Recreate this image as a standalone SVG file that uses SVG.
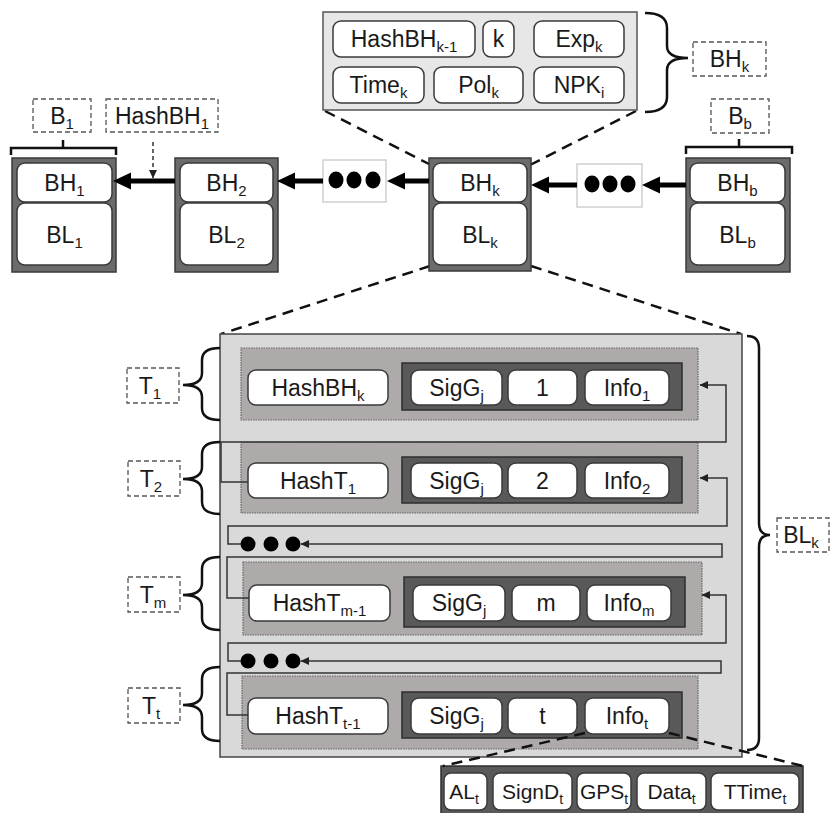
<svg xmlns="http://www.w3.org/2000/svg" width="831" height="813" viewBox="0 0 831 813">
<style>
text{font-family:"Liberation Sans",Arial,sans-serif;font-size:23px;fill:#1a1a1a;text-anchor:middle}
tspan.s{font-size:15px}
text.d{font-size:21px}
text.d tspan.s{font-size:14px}
.blk{fill:#6b6b6b;stroke:#3a3a3a;stroke-width:1.5}
.wb{fill:#fff;stroke:#3a3a3a;stroke-width:1.5}
.lbl{fill:#fff;stroke:#555;stroke-width:1.3;stroke-dasharray:5,3}
.dotbox{fill:#fff;stroke:#d0d0d0;stroke-width:1.5}
.hdr{fill:#e7e7e7;stroke:#555;stroke-width:1.5}
.bl{fill:#d9d9d9;stroke:#444;stroke-width:1.5}
.tr{fill:#aeaaaa;stroke:#666;stroke-width:1.2;stroke-dasharray:1.5,1}
.dk{fill:#595959;stroke:#2e2e2e;stroke-width:1.5}
.thick{stroke:#000;stroke-width:5;fill:none}
.thin{stroke:#333;stroke-width:1.5;fill:none}
.dash{stroke:#111;stroke-width:2.5;fill:none;stroke-dasharray:11,7}
.brace{stroke:#111;stroke-width:2.5;fill:none}
.dot{fill:#000}
</style>
<defs>
<marker id="big" markerUnits="userSpaceOnUse" markerWidth="19" markerHeight="19" viewBox="0 0 19 19" refX="7" refY="9.5" orient="auto">
<path d="M0,1 L18,9.5 L0,18 z" fill="#000"/>
</marker>
<marker id="sm" markerUnits="userSpaceOnUse" markerWidth="9" markerHeight="9" viewBox="0 0 9 9" refX="8" refY="4.5" orient="auto">
<path d="M0,0.5 L8.5,4.5 L0,8.5 z" fill="#222"/>
</marker>
</defs>

<!-- Zoom dashed lines (behind) -->
<g id="zoom-lines">
<path class="dash" d="M325,111 L431,165"/>
<path class="dash" d="M636,111 L530,165"/>
<path class="dash" d="M430,266 L221,334"/>
<path class="dash" d="M531,266 L741,334"/>
</g>

<!-- Block header detail -->
<g id="header">
<rect class="hdr" x="323" y="12" width="314" height="98"/>
<rect class="wb" x="333" y="21" width="142" height="36" rx="8"/>
<text x="404" y="47">HashBH<tspan class="s" dy="5">k-1</tspan></text>
<rect class="wb" x="483" y="21" width="31" height="36" rx="8"/>
<text x="498.5" y="47">k</text>
<rect class="wb" x="534" y="21" width="90" height="36" rx="8"/>
<text x="579" y="47">Exp<tspan class="s" dy="5">k</tspan></text>
<rect class="wb" x="333" y="67" width="91" height="36" rx="8"/>
<text x="378.5" y="93">Time<tspan class="s" dy="5">k</tspan></text>
<rect class="wb" x="434" y="67" width="89" height="36" rx="8"/>
<text x="478.5" y="93">Pol<tspan class="s" dy="5">k</tspan></text>
<rect class="wb" x="534" y="67" width="90" height="36" rx="8"/>
<text x="579" y="93">NPK<tspan class="s" dy="5">i</tspan></text>
</g>
<g id="header-brace">
<path class="brace" d="M645,13 Q667,13 667,28 V46 Q667,58 688,58 Q667,58 667,70 V97 Q667,112 645,112"/>
<rect class="lbl" x="693" y="42" width="73" height="34"/>
<text x="729.5" y="67">BH<tspan class="s" dy="5">k</tspan></text>
</g>

<!-- Chain blocks -->
<g id="block-1">
<path class="brace" d="M11,155 V148 H116 V155 M63,148 V140"/>
<rect class="lbl" x="33" y="99" width="58" height="33"/>
<text x="62" y="124">B<tspan class="s" dy="5">1</tspan></text>
<rect class="blk" x="12" y="158" width="104" height="114"/>
<rect class="wb" x="17" y="163" width="95" height="39" rx="8"/>
<text x="64.5" y="191">BH<tspan class="s" dy="5">1</tspan></text>
<rect class="wb" x="17" y="203" width="95" height="62" rx="8"/>
<text x="64.5" y="243">BL<tspan class="s" dy="5">1</tspan></text>
</g>
<g id="hashbh1-label">
<rect class="lbl" x="106" y="99" width="112" height="33"/>
<text x="162" y="124">HashBH<tspan class="s" dy="5">1</tspan></text>
</g>
<g id="block-2">
<rect class="blk" x="175" y="158" width="103" height="114"/>
<rect class="wb" x="180" y="163" width="93" height="39" rx="8"/>
<text x="226.5" y="191">BH<tspan class="s" dy="5">2</tspan></text>
<rect class="wb" x="180" y="203" width="93" height="62" rx="8"/>
<text x="226.5" y="243">BL<tspan class="s" dy="5">2</tspan></text>
</g>
<g id="dots-left">
<rect class="dotbox" x="323" y="160" width="63" height="42"/>
<ellipse class="dot" cx="336" cy="180" rx="7.5" ry="8.5"/>
<ellipse class="dot" cx="354" cy="180" rx="7.5" ry="8.5"/>
<ellipse class="dot" cx="373" cy="180" rx="7.5" ry="8.5"/>
</g>
<g id="block-k">
<rect class="blk" x="429" y="158" width="102" height="113"/>
<rect class="wb" x="433" y="163" width="94" height="39" rx="8"/>
<text x="480" y="191">BH<tspan class="s" dy="5">k</tspan></text>
<rect class="wb" x="433" y="203" width="94" height="62" rx="8"/>
<text x="480" y="243">BL<tspan class="s" dy="5">k</tspan></text>
</g>
<g id="dots-right">
<rect class="dotbox" x="577" y="164" width="65" height="43"/>
<ellipse class="dot" cx="592" cy="184" rx="7.5" ry="8.5"/>
<ellipse class="dot" cx="610" cy="184" rx="7.5" ry="8.5"/>
<ellipse class="dot" cx="628" cy="184" rx="7.5" ry="8.5"/>
</g>
<g id="block-b">
<path class="brace" d="M686,154 V147 H792 V154 M739,147 V139"/>
<rect class="lbl" x="711" y="99" width="58" height="34"/>
<text x="740" y="124">B<tspan class="s" dy="5">b</tspan></text>
<rect class="blk" x="686" y="158" width="104" height="114"/>
<rect class="wb" x="690" y="163" width="95" height="39" rx="8"/>
<text x="737.5" y="191">BH<tspan class="s" dy="5">b</tspan></text>
<rect class="wb" x="690" y="203" width="95" height="62" rx="8"/>
<text x="737.5" y="243">BL<tspan class="s" dy="5">b</tspan></text>
</g>

<!-- Block body detail -->
<g id="body">
<rect class="bl" x="220" y="334" width="522" height="423"/>
</g>

<g id="tx-1">
<rect class="tr" x="241" y="348" width="457" height="72"/>
<rect class="wb" x="248" y="370" width="140" height="35" rx="8"/>
<text x="318" y="396">HashBH<tspan class="s" dy="5">k</tspan></text>
<rect class="dk" x="402" y="363" width="280" height="47"/>
<rect class="wb" x="411" y="370" width="91" height="35" rx="8"/>
<text x="456.5" y="396">SigG<tspan class="s" dy="5">j</tspan></text>
<rect class="wb" x="508" y="370" width="69" height="35" rx="8"/>
<text x="542.5" y="396">1</text>
<rect class="wb" x="585" y="370" width="84" height="35" rx="8"/>
<text x="627" y="396">Info<tspan class="s" dy="5">1</tspan></text>
</g>
<g id="tx-2">
<rect class="tr" x="241" y="442" width="457" height="71"/>
<rect class="wb" x="248" y="463" width="140" height="35" rx="8"/>
<text x="318" y="489">HashT<tspan class="s" dy="5">1</tspan></text>
<rect class="dk" x="402" y="457" width="280" height="46"/>
<rect class="wb" x="411" y="463" width="91" height="35" rx="8"/>
<text x="456.5" y="489">SigG<tspan class="s" dy="5">j</tspan></text>
<rect class="wb" x="508" y="463" width="69" height="35" rx="8"/>
<text x="542.5" y="489">2</text>
<rect class="wb" x="585" y="463" width="84" height="35" rx="8"/>
<text x="627" y="489">Info<tspan class="s" dy="5">2</tspan></text>
</g>
<g id="tx-m">
<rect class="tr" x="243" y="562" width="459" height="73"/>
<rect class="wb" x="249" y="585" width="141" height="36" rx="8"/>
<text x="319.5" y="611">HashT<tspan class="s" dy="5">m-1</tspan></text>
<rect class="dk" x="404" y="577" width="281" height="50"/>
<rect class="wb" x="413" y="585" width="92" height="36" rx="8"/>
<text x="459" y="611">SigG<tspan class="s" dy="5">j</tspan></text>
<rect class="wb" x="512" y="585" width="68" height="36" rx="8"/>
<text x="546" y="611">m</text>
<rect class="wb" x="587" y="585" width="84" height="36" rx="8"/>
<text x="629" y="611">Info<tspan class="s" dy="5">m</tspan></text>
</g>
<g id="tx-t">
<rect class="tr" x="242" y="676" width="456" height="73"/>
<rect class="wb" x="248" y="698" width="140" height="36" rx="8"/>
<text x="318" y="724">HashT<tspan class="s" dy="5">t-1</tspan></text>
<rect class="dk" x="402" y="692" width="280" height="46"/>
<rect class="wb" x="411" y="698" width="91" height="36" rx="8"/>
<text x="456.5" y="724">SigG<tspan class="s" dy="5">j</tspan></text>
<rect class="wb" x="508" y="698" width="69" height="36" rx="8"/>
<text x="542.5" y="724">t</text>
<rect class="wb" x="585" y="698" width="84" height="36" rx="8"/>
<text x="627" y="724">Info<tspan class="s" dy="5">t</tspan></text>
</g>

<g id="tx-dots">
<circle class="dot" cx="248" cy="544" r="7.5"/>
<circle class="dot" cx="271" cy="544" r="7.5"/>
<circle class="dot" cx="293" cy="544" r="7.5"/>
<circle class="dot" cx="248" cy="661" r="7.5"/>
<circle class="dot" cx="271" cy="661" r="7.5"/>
<circle class="dot" cx="293" cy="661" r="7.5"/>
</g>

<!-- Labels and braces for transactions -->
<g id="label-T1">
<path class="brace" d="M220,348 Q202,348 202,360 V373 Q202,385 183,385 Q202,385 202,397 V408 Q202,420 220,420"/>
<rect class="lbl" x="127" y="368" width="52" height="35"/>
<text x="150" y="394">T<tspan class="s" dy="5">1</tspan></text>
</g>
<g id="label-T2">
<path class="brace" d="M220,442 Q202,442 202,454 V467 Q202,479 183,479 Q202,479 202,491 V502 Q202,514 220,514"/>
<rect class="lbl" x="128" y="461" width="52" height="35"/>
<text x="151" y="487">T<tspan class="s" dy="5">2</tspan></text>
</g>
<g id="label-Tm">
<path class="brace" d="M220,557 Q202,557 202,569 V583 Q202,595 183,595 Q202,595 202,607 V618 Q202,630 220,630"/>
<rect class="lbl" x="128" y="577" width="52" height="35"/>
<text x="153" y="603">T<tspan class="s" dy="5">m</tspan></text>
</g>
<g id="label-Tt">
<path class="brace" d="M220,667 Q202,667 202,679 V693 Q202,705 183,705 Q202,705 202,717 V729 Q202,741 220,741"/>
<rect class="lbl" x="128" y="688" width="52" height="35"/>
<text x="151" y="714">T<tspan class="s" dy="5">t</tspan></text>
</g>
<g id="label-BLk">
<path class="brace" d="M747,336 Q759,336 759,348 V523 Q759,535 770,535 Q759,535 759,547 V738 Q759,750 747,750"/>
<rect class="lbl" x="777" y="518" width="52" height="34"/>
<text x="801" y="543">BL<tspan class="s" dy="5">k</tspan></text>
</g>

<!-- Transaction details -->
<g id="info-detail">
<rect class="dk" x="441" y="766" width="362" height="52"/>
<rect class="wb" x="444" y="773" width="43" height="37" rx="7"/>
<text class="d" x="464" y="799">AL<tspan class="s" dy="5">t</tspan></text>
<rect class="wb" x="493" y="773" width="79" height="37" rx="7"/>
<text class="d" x="532.5" y="799">SignD<tspan class="s" dy="5">t</tspan></text>
<rect class="wb" x="577" y="773" width="54" height="37" rx="7"/>
<text class="d" x="604" y="799">GPS<tspan class="s" dy="5">t</tspan></text>
<rect class="wb" x="637" y="773" width="69" height="37" rx="7"/>
<text class="d" x="671.5" y="799">Data<tspan class="s" dy="5">t</tspan></text>
<rect class="wb" x="711" y="773" width="88" height="37" rx="7"/>
<text class="d" x="755" y="799">TTime<tspan class="s" dy="5">t</tspan></text>
</g>
<g id="detail-lines">
<path class="dash" d="M585,733 L443,766"/>
<path class="dash" d="M669,733 L803,766"/>
</g>

<!-- Connectors -->
<g id="connectors">
<line class="thick" x1="175" y1="181" x2="124" y2="181" marker-end="url(#big)"/>
<line class="thick" x1="323" y1="181" x2="288" y2="181" marker-end="url(#big)"/>
<line class="thick" x1="429" y1="181" x2="398" y2="181" marker-end="url(#big)"/>
<line class="thick" x1="577" y1="185" x2="542" y2="185" marker-end="url(#big)"/>
<line class="thick" x1="686" y1="185" x2="653" y2="185" marker-end="url(#big)"/>
<line x1="153" y1="142" x2="153" y2="178" stroke="#333" stroke-width="1.5" stroke-dasharray="4,3" marker-end="url(#sm)"/>
<path class="thin" d="M248,482 H221 V442 H726 V385 H700" marker-end="url(#sm)"/>
<path class="thin" d="M241,544 H228 V526 H727 V478 H700" marker-end="url(#sm)"/>
<path class="thin" d="M249,598 H227 V557 H722 V544 H301" marker-end="url(#sm)"/>
<path class="thin" d="M241,661 H228 V643 H726 V595 H702" marker-end="url(#sm)"/>
<path class="thin" d="M248,715 H227 V673 H721 V661 H301" marker-end="url(#sm)"/>
</g>
</svg>
